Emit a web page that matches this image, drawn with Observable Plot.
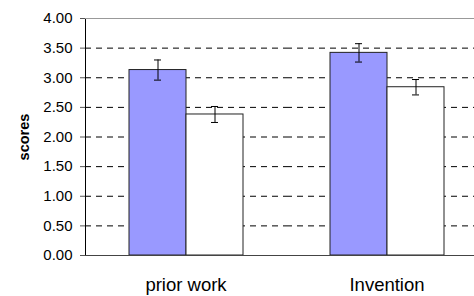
<!DOCTYPE html>
<html>
<head>
<meta charset="utf-8">
<script src="https://cdn.jsdelivr.net/npm/d3@7"></script>
<script src="https://cdn.jsdelivr.net/npm/@observablehq/plot@0.6"></script>
<style>
  html, body { margin: 0; padding: 0; background: #fff; overflow: hidden; width: 474px; height: 296px; }
  #chart svg { display: block; max-width: none !important; }
  [aria-label^="fx-axis"] text { font-size: 18.5px; }
  [aria-label^="y-axis"] path, [aria-label^="y-axis"] line { stroke: #555; }
  .ylabel { font-weight: bold; font-size: 14.5px; }
</style>
</head>
<body>
<div id="chart"></div>
<script>
const categories = ["prior work", "Invention"];
const seriesKeys = ["first", "second"];
const meansFirst = [3.13, 3.42];
const meansSecond = [2.38, 2.84];
const errFirst = [0.17, 0.155];
const errSecond = [0.135, 0.13];
const yTicks = [0, 0.5, 1, 1.5, 2, 2.5, 3, 3.5, 4];
const gridValues = [0.5, 1, 1.5, 2, 2.5, 3, 3.5];
const yTitle = "scores";

const rows = categories.flatMap((c, i) => [
  {category: c, series: seriesKeys[0], mean: meansFirst[i], err: errFirst[i]},
  {category: c, series: seriesKeys[1], mean: meansSecond[i], err: errSecond[i]}
]);

const chart = Plot.plot({
  width: 487,
  height: 296,
  marginTop: 18,
  marginBottom: 41,
  marginLeft: 85,
  marginRight: 0,
  style: {fontFamily: "'Liberation Sans', Arial, sans-serif", fontSize: "15px", color: "#000", background: "#fff", maxWidth: "none"},
  facet: {data: rows, x: "category"},
  fx: {domain: categories, padding: 0, tickSize: 0, tickPadding: 22, label: null},
  x: {domain: seriesKeys, paddingInner: 0, paddingOuter: 0.733, axis: null},
  y: {domain: [0, 4], ticks: yTicks, tickFormat: d => d.toFixed(2), tickSize: 5, tickPadding: 8,
      line: true, label: yTitle, labelArrow: false, labelAnchor: "center", labelOffset: 67},
  color: {domain: seriesKeys, range: ["#9999ff", "#ffffff"]},
  marks: [
    Plot.ruleY([4], {stroke: "#999"}),
    Plot.ruleY(gridValues, {stroke: "#000", strokeDasharray: "6,5"}),
    Plot.barY(rows, {x: "series", y: "mean", fill: "series", stroke: "#222", strokeWidth: 1}),
    Plot.ruleX(rows, {x: "series", y1: d => d.mean - d.err, y2: d => d.mean + d.err, stroke: "#000"}),
    Plot.tickY(rows, {x: "series", y: d => d.mean - d.err, stroke: "#000", insetLeft: 25, insetRight: 25}),
    Plot.tickY(rows, {x: "series", y: d => d.mean + d.err, stroke: "#000", insetLeft: 25, insetRight: 25}),
    Plot.ruleY([0], {stroke: "#444"})
  ]
});
chart.querySelectorAll("text").forEach(t => {
  if (t.textContent.startsWith(yTitle)) {
    t.textContent = yTitle;
    t.setAttribute("class", "ylabel");
  }
});
document.getElementById("chart").appendChild(chart);
</script>
</body>
</html>
